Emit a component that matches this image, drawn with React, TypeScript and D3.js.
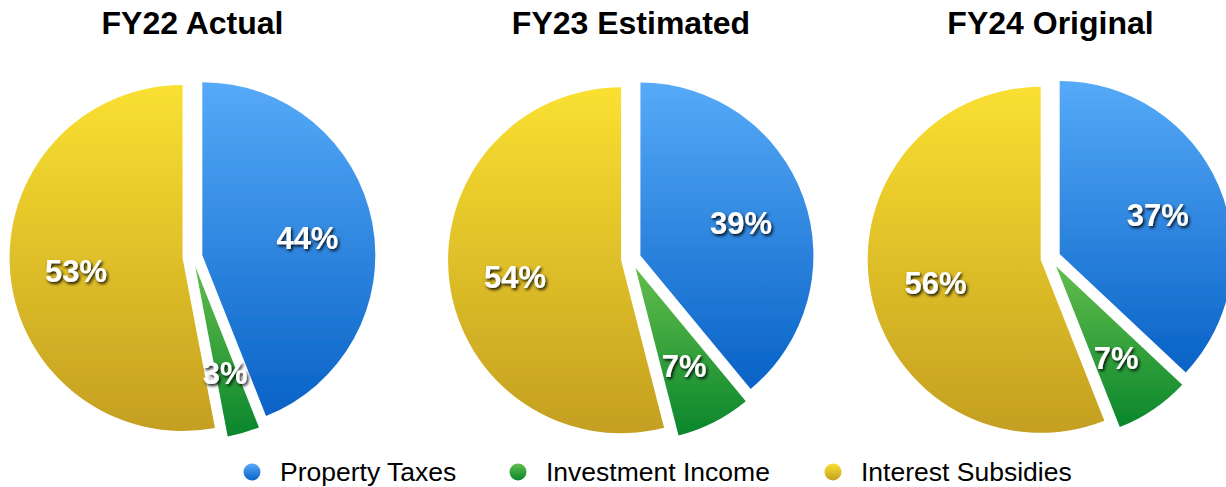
import React from "react";
import * as d3 from "d3";

const categories = ["Property Taxes", "Investment Income", "Interest Subsidies"];
const years = ["FY22 Actual", "FY23 Estimated", "FY24 Original"];
const fy22 = [44, 3, 53];
const fy23 = [39, 7, 54];
const fy24 = [37, 7, 56];
const series = [fy22, fy23, fy24];

const W = 1226;
const H = 487;
const R = 173;
const EXPLODE = 10;
const LABEL_R = 107;
const centers = [
  { x: 192.5, y: 257 },
  { x: 631, y: 259 },
  { x: 1050.5, y: 258 },
];
const gradStops = [
  ["#56aaf8", "#0862c6"],
  ["#62bd4c", "#0a862c"],
  ["#fae031", "#c49f21"],
];
const legendX = [252, 518, 833];
const font = "'Liberation Sans', Arial, Helvetica, sans-serif";

export default function App() {
  const pie = d3.pie<number>().sort(null).value((d) => d).startAngle(0).endAngle(2 * Math.PI);
  const arc = d3.arc<d3.PieArcDatum<number>>().innerRadius(0).outerRadius(R);

  return (
    <svg
      width={W}
      height={H}
      style={{ position: "absolute", left: 0, top: 0, background: "#fff" }}
    >
      <defs>
        {gradStops.map((g, i) => (
          <linearGradient key={i} id={`g${i}`} x1="0" y1="0" x2="0" y2="1">
            <stop offset="0" stopColor={g[0]} />
            <stop offset="1" stopColor={g[1]} />
          </linearGradient>
        ))}
        <filter id="ts" x="-30%" y="-30%" width="160%" height="160%">
          <feDropShadow dx="1.5" dy="2" stdDeviation="1.4" floodColor="#000" floodOpacity="0.9" />
        </filter>
        <filter id="soft" x="-5%" y="-5%" width="110%" height="110%">
          <feGaussianBlur stdDeviation="0.6" />
        </filter>
      </defs>

      {series.map((vals, pi) => {
        const c = centers[pi];
        const arcs = pie(vals);
        return (
          <g key={pi} transform={`translate(${c.x},${c.y})`}>
            <text
              x={0}
              y={34 - c.y}
              textAnchor="middle"
              fontFamily={font}
              fontWeight="bold"
              fontSize={32}
              fill="#000"
            >
              {years[pi]}
            </text>
            {arcs.map((a, i) => {
              const mid = (a.startAngle + a.endAngle) / 2;
              const dx = Math.sin(mid) * EXPLODE;
              const dy = -Math.cos(mid) * EXPLODE;
              return (
                <g key={i} transform={`translate(${dx},${dy})`}>
                  <path d={arc(a) || ""} fill={`url(#g${i})`} filter="url(#soft)" />
                </g>
              );
            })}
            {arcs.map((a, i) => {
              const mid = (a.startAngle + a.endAngle) / 2;
              const dx = Math.sin(mid) * EXPLODE;
              const dy = -Math.cos(mid) * EXPLODE;
              const lx = dx + Math.sin(mid) * LABEL_R;
              const ly = dy - Math.cos(mid) * LABEL_R;
              return (
                <text
                  key={`l${i}`}
                  x={lx}
                  y={ly + 3}
                  dy="0.36em"
                  textAnchor="middle"
                  fontFamily={font}
                  fontWeight="bold"
                  fontSize={31}
                  fill="#fff"
                  filter="url(#ts)"
                >
                  {`${a.data}%`}
                </text>
              );
            })}
          </g>
        );
      })}

      {categories.map((cat, i) => (
        <g key={cat}>
          <circle cx={legendX[i]} cy={472} r={8.5} fill={`url(#g${i})`} />
          <text x={legendX[i] + 28} y={481} fontFamily={font} fontSize={26.5} fill="#000">
            {cat}
          </text>
        </g>
      ))}
    </svg>
  );
}
